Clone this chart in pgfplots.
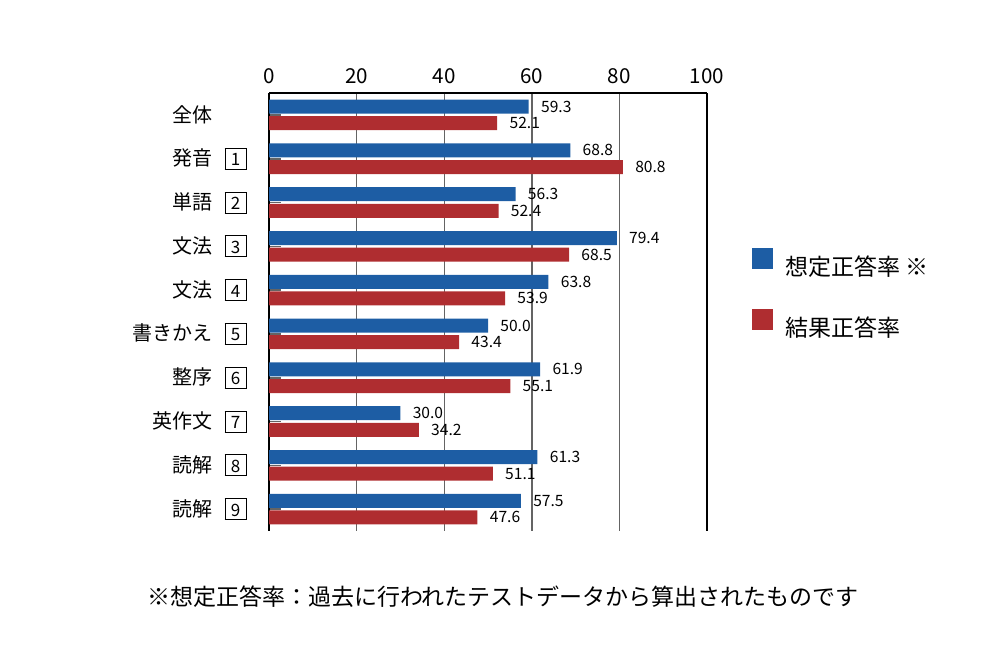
\documentclass[border=0pt]{standalone}
\usepackage{pgfplots}
\pgfplotsset{compat=1.18}
\usepackage{fontspec}
\setmainfont{Noto Sans CJK JP}
\definecolor{myblue}{RGB}{29,93,164}
\definecolor{myred}{RGB}{175,45,48}
\definecolor{gridgray}{RGB}{100,100,100}
% number in a small frame after the category name
\newcommand{\nb}[1]{\hspace{6pt}{\setlength{\fboxsep}{0pt}\setlength{\fboxrule}{0.5pt}%
  \fbox{\makebox[10pt][c]{\rule[-1.5pt]{0pt}{10pt}\fontsize{8.5}{8.5}\selectfont #1}}}}
\newcommand{\nbx}{\rule{17pt}{0pt}}

\begin{document}
\begin{tikzpicture}
\path[use as bounding box] (0,0) rectangle (500pt,330pt);
\begin{axis}[
  at={(134.5pt,64.5pt)}, anchor=south west,
  scale only axis, width=219pt, height=219pt,
  xbar, bar width=7pt,
  xmin=0, xmax=100, ymin=-0.5, ymax=9.5,
  y dir=reverse,
  axis x line*=top, axis y line*=left,
  axis line style={black, line width=0.6pt},
  xtick={0,20,40,60,80}, extra x ticks={100},
  extra x tick style={grid style={black, line width=0.6pt}},
  xmajorgrids, grid style={gridgray, line width=0.7pt},
  xtick style={draw=none},
  xticklabel style={inner sep=0pt, yshift=4.5pt, font=\fontsize{10.3}{10.3}\selectfont},
  /pgf/number format/assume math mode=true,
  ytick={0,...,9},
  yticklabels={{全体\nbx},{発音\nb{1}},{単語\nb{2}},{文法\nb{3}},{文法\nb{4}},
    {書きかえ\nb{5}},{整序\nb{6}},{英作文\nb{7}},{読解\nb{8}},{読解\nb{9}}},
  yticklabel style={inner sep=0pt, xshift=-11pt, font=\fontsize{10}{10}\selectfont},
  tick align=inside, major tick length=6pt,
  ytick style={draw=gridgray, line width=0.8pt},
  nodes near coords,
  every node near coord/.append style={anchor=west, inner sep=0pt, xshift=6pt,
    font=\fontsize{7.8}{7.8}\selectfont, text=black,
    /pgf/number format/fixed, /pgf/number format/fixed zerofill,
    /pgf/number format/precision=1},
  legend style={draw=none, at={(1.102,0.5417)}, anchor=west, inner sep=0pt,
    row sep=15pt, column sep=6pt, font=\fontsize{11.5}{11.5}\selectfont,
    nodes={inner sep=0pt}},
  legend cell align=left,
]
\addplot[fill=myblue, draw=none, bar shift=4.15pt,
  legend image code/.code={\fill[myblue] (0pt,-0.9pt) rectangle (10.5pt,9.6pt);}]
  coordinates {
  (59.3,0) (68.8,1) (56.3,2) (79.4,3) (63.8,4)
  (50.0,5) (61.9,6) (30.0,7) (61.3,8) (57.5,9)
};
\addplot[fill=myred, draw=none, bar shift=-4.15pt,
  legend image code/.code={\fill[myred] (0pt,-0.9pt) rectangle (10.5pt,9.6pt);}]
  coordinates {
  (52.1,0) (80.8,1) (52.4,2) (68.5,3) (53.9,4)
  (43.4,5) (55.1,6) (34.2,7) (51.1,8) (47.6,9)
};
\legend{想定正答率 ※,結果正答率}
\end{axis}
\node[font=\fontsize{11.5}{11.5}\selectfont] at (251.5pt,31.5pt)
  {※想定正答率：過去に行われたテストデータから算出されたものです};
\end{tikzpicture}
\end{document}
